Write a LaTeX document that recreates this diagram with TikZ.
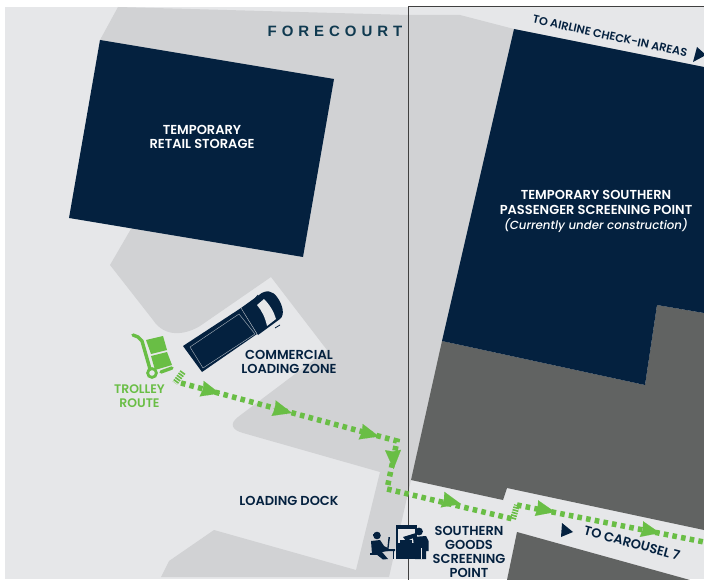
\documentclass[tikz,border=0pt]{standalone}
\usepackage{fontspec}
\setmainfont{Poppins}[UprightFont=* SemiBold,ItalicFont=* Medium Italic,BoldFont=* Bold]
\newfontfamily\fcfont{Liberation Sans}[LetterSpace=33,BoldFont=* Bold]
\usetikzlibrary{arrows.meta}
\definecolor{lightbg}{HTML}{E6E7E9}
\definecolor{midgray}{HTML}{D1D2D4}
\definecolor{navy}{HTML}{04213F}
\definecolor{darkgray}{HTML}{616362}
\definecolor{routegreen}{HTML}{69BE45}
\definecolor{fctext}{HTML}{103A50}
\tikzset{
  x=1pt,y=-1pt,
  label/.style={text=navy,align=center,font=\fontsize{13}{14.8}\selectfont,inner sep=0pt},
  greenlabel/.style={label,text=routegreen},
  routeline/.style={routegreen,line width=5.5pt,dash pattern=on 4.6pt off 4.2pt},
  routefine/.style={routegreen,line width=6pt,dash pattern=on 1.6pt off 1.1pt},
  routetip/.style={routegreen,line width=0.1pt,-{Stealth[length=19pt,width=16pt,inset=1.5pt]}},
  iconpart/.style={fill=navy,draw=none},
  truckline/.style={draw=lightbg!75!navy,line width=0.4pt},
}
\begin{document}
\begin{tikzpicture}
\useasboundingbox (0,0) rectangle (704,580);
\clip (0,0) rectangle (704,580);
\fill[white] (0,0) rectangle (704,580);
\fill[lightbg] (5,7) rectangle (704,579);
% forecourt
\fill[midgray] (118,7) -- (408,15) -- (460,15) -- (514,29) -- (450,340) -- (411,480) -- (389,577)
  -- (161,577) -- (169,561) -- (214,530) -- (356,570) -- (380,472) -- (243,433)
  .. controls (232,430) and (229,424) .. (238,417)
  -- (327,350) -- (271,277) -- (200,326)
  .. controls (185,335) and (165,338) .. (153,320)
  -- (110,265) -- (135,222) -- (100,40) -- cycle;
% buildings
\fill[navy] (100,40) -- (334,79) -- (303,257) -- (69,218) -- cycle;
\fill[darkgray] (442,341) -- (645,385) -- (657,305) -- (704,313) -- (704,530) -- (507,488) -- (503,500) -- (411,480) -- cycle;
\fill[navy] (514,29) -- (704,67) -- (704,313) -- (657,305) -- (645,385) -- (442,341) -- cycle;
\fill[darkgray] (517,532) -- (690,580) -- (507,580) -- cycle;
% frame lines
\coordinate (ltop) at (408,6);
\coordinate (lbot) at (408,580);
\coordinate (lright) at (704,6);
\draw[black!75,line width=0.6pt] (lbot) -- (ltop) -- (lright);
% labels
\node[text=fctext,font=\fontsize{15}{15}\fcfont\bfseries,inner sep=0pt] (forecourt) at (335,31) {FORECOURT};
\node[label,text=white] (retail) at (202,137) {TEMPORARY\\RETAIL STORAGE};
\node[label,text=white] (southern) at (596,211.5) {TEMPORARY SOUTHERN\\PASSENGER SCREENING POINT\\{\itshape\fontsize{11.8}{14.8}\selectfont (Currently under construction)}};
\node[label] (zone) at (289,362) {COMMERCIAL\\LOADING ZONE};
\node[label] (dock) at (289,500.5) {LOADING DOCK};
\node[greenlabel,font=\fontsize{12.4}{14.2}\selectfont] (trolley) at (139.5,396.5) {TROLLEY\\ROUTE};
\node[label,font=\fontsize{13}{13.9}\selectfont] (goods) at (469,552) {SOUTHERN\\GOODS\\SCREENING\\POINT};
\node[label,rotate=-15] (carousel) at (632,543) {TO CAROUSEL 7};
\node[label,rotate=-12.5,font=\fontsize{11.3}{12}\selectfont] (airline) at (610,36) {TO AIRLINE CHECK-IN AREAS};
\fill[navy] (562,523) -- (573,532) -- (561,537) -- cycle;
\fill[navy] (697,47) -- (706,55) -- (693,62) -- cycle;
% route
\coordinate (r0a) at (183,372);
\coordinate (r0b) at (175,383);
\coordinate (r1) at (181,383);
\coordinate (r2) at (397,441);
\coordinate (r3) at (387,489);
\coordinate (r4) at (513,519);
\coordinate (r5) at (517,505);
\coordinate (r6) at (704,542);
\draw[routefine] (r0a) -- (r0b);
\draw[routeline] (r1) -- (r2) -- (r3) -- (r4);
\draw[routefine] (r4) -- (r5);
\draw[routeline] (r5) -- (r6);
\foreach \ta/\tb/\tc/\td in {201/388.5/220/393.5, 273/408/292/413, 360/431.5/379/436.5, 393/449/393.5/469, 442/499.5/461/504, 536/508/555/512, 641/529/660/533}{
  \draw[routetip] (\ta,\tb) -- (\tc,\td);
}
% trolley
\draw[routegreen,line width=3.4pt,line cap=round,line join=round] (133,335) -- (138,337) -- (142,341) -- (150,369);
\draw[routegreen,line width=3.4pt,line cap=round] (161,372) -- (172,368);
\draw[routegreen,line width=2.8pt] (152,373) circle (4.4);
\fill[routegreen] (146,340) -- (163,336) -- (167,350) -- (151,354) -- cycle;
\fill[routegreen] (151,356) -- (167,352) -- (172,365) -- (155,370) -- cycle;
% truck
\fill[navy] (183,346) -- (241,308) -- (257,334) -- (202,372) -- cycle;
\fill[navy] (241,308) -- (259,295) .. controls (266,289) and (273,291) .. (277,297)
  .. controls (283,305) and (285,315) .. (280,319) -- (258,335) -- cycle;
\draw[truckline] (190,347) -- (239,314) -- (255,334) -- (203,368) -- cycle;
\draw[truckline] (241,308) -- (257,334);
\fill[lightbg] (257,305) -- (264,299) .. controls (270,305) and (274,312) .. (276,319) -- (267,326) .. controls (265,317) and (262,311) .. (257,305) -- cycle;
\draw[navy,line width=0.8pt] (254,300) -- (258,295);
\draw[navy,line width=0.8pt] (275,328) -- (280,325);
% screening icons
\fill[iconpart] (377,535.5) circle (3.8);
\fill[iconpart] (372.5,534) rectangle (380,536);
\fill[iconpart] (371,541) -- (380,540) -- (384,546) -- (388,548) -- (388,551) -- (382,552) -- (388,559) -- (383,559.5) -- (376,554) -- (372,554) -- cycle;
\fill[iconpart] (370,553) rectangle (378,555);
\fill[iconpart] (388.5,537) -- (390,537) -- (388.5,549) -- (395,549) -- (395,551) -- (387,551) -- cycle;
\fill[iconpart] (392.5,551) rectangle (394,559);
\fill[iconpart] (396,525) rectangle (417,559);
\fill[lightbg] (398,529) rectangle (415,543);
\fill[iconpart] (400,540) rectangle (412,544);
\fill[iconpart] (403,537) -- (416,533) -- (416,537) -- (406,541) -- cycle;
\fill[iconpart] (419,531.5) circle (3.9);
\fill[iconpart] (413,537) -- (426,536) -- (428.5,541) -- (428.5,551) -- (426,551) -- (426,559) -- (415,559) -- cycle;
\fill[lightbg] (420.5,548) rectangle (421.2,559);
\end{tikzpicture}
\end{document}
